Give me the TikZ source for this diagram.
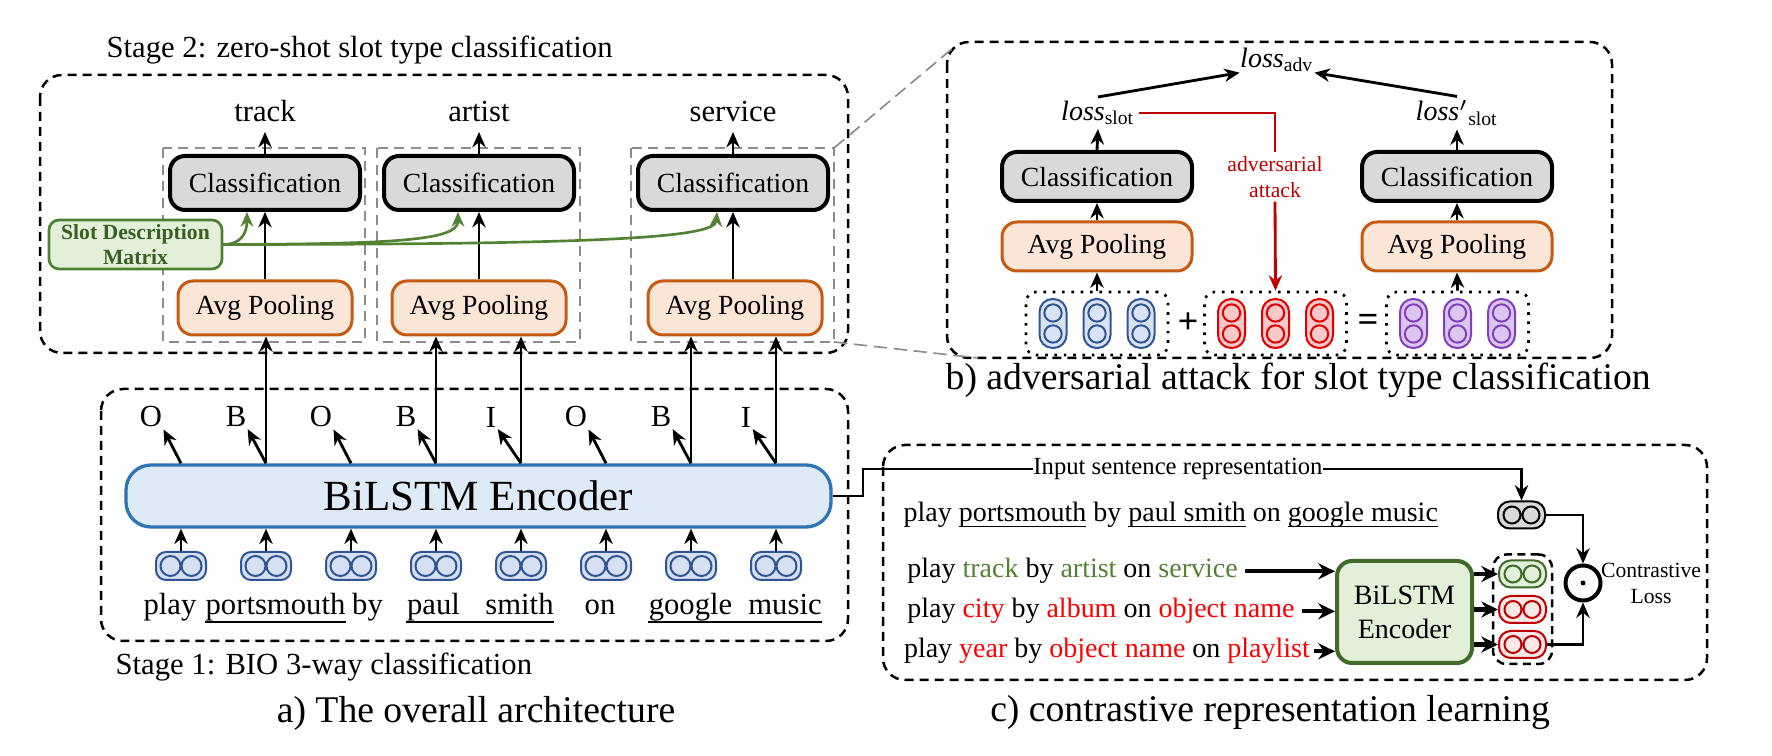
\documentclass[tikz,border=0pt]{standalone}
\usepackage{fontspec}
\setmainfont{Liberation Serif}
\usetikzlibrary{arrows.meta,calc,fit}
\definecolor{clsgray}{HTML}{D9D9D9}
\definecolor{avgfill}{HTML}{FBE5D6}
\definecolor{avgbd}{HTML}{C55A11}
\definecolor{encfill}{HTML}{DEEBF7}
\definecolor{encbd}{HTML}{2E75B6}
\definecolor{embfill}{HTML}{D6E0F2}
\definecolor{embbd}{HTML}{2F5597}
\definecolor{slotfill}{HTML}{E2F0D9}
\definecolor{slotbd}{HTML}{507E32}
\definecolor{slottxt}{HTML}{3B5E23}
\definecolor{garr}{HTML}{548235}
\definecolor{blfill}{HTML}{DAE3F3}
\definecolor{blbd}{HTML}{2F5597}
\definecolor{rdfill}{HTML}{FAC8C8}
\definecolor{rdbd}{HTML}{E00000}
\definecolor{pufill}{HTML}{DCC6F0}
\definecolor{pubd}{HTML}{7F3FBF}
\definecolor{advred}{HTML}{C00000}
\definecolor{ctgreen}{HTML}{548235}
\definecolor{ctred}{HTML}{FF0000}
\definecolor{gbfill}{HTML}{E2F0D9}
\definecolor{gbbd}{HTML}{3F6A28}
\definecolor{icrfill}{HTML}{FDE8E8}
\definecolor{icrbd}{HTML}{C00000}
\definecolor{zoomgray}{HTML}{8C8C8C}
\newcommand\fsN{\fontsize{9.2pt}{11pt}\selectfont}
\newcommand\fsB{\fontsize{8.3pt}{10pt}\selectfont}
\newcommand\fsE{\fontsize{12.9pt}{15pt}\selectfont}
\newcommand\fsC{\fontsize{11.3pt}{13pt}\selectfont}
\newcommand\fsS{\fontsize{6.5pt}{7.8pt}\selectfont}
\newcommand\fsSD{\fontsize{6.5pt}{7.5pt}\selectfont}
\newcommand\fsI{\fontsize{7.4pt}{9pt}\selectfont}
\newcommand\fsP{\fontsize{8.4pt}{10.2pt}\selectfont}
\newcommand\myul[1]{\underline{\smash{#1}}}
\begin{document}
\begin{tikzpicture}[x=0.3pt,y=-0.3pt,
  arr/.style={-{Stealth[length=4.6pt,width=4pt]}, line width=0.85pt},
  arrthick/.style={-{Stealth[length=5pt,width=4.8pt]}, line width=1.3pt},
  garrow/.style={-{Stealth[length=4.4pt,width=3.8pt]}, line width=0.8pt, draw=garr},
  obox/.style={draw=black, dash pattern=on 2.7pt off 1.8pt, line width=0.75pt, rounded corners=6.6pt},
  gbox/.style={draw=zoomgray, dash pattern=on 3pt off 2pt, line width=0.5pt},
  txt/.style={inner sep=0pt},
  cls/.style={draw, line width=1.2pt, fill=clsgray, rounded corners=4.5pt, minimum width=57pt, minimum height=16.2pt, font=\fsB, inner sep=0pt},
  avg/.style={draw=avgbd, line width=0.9pt, fill=avgfill, rounded corners=4.5pt, minimum width=52.2pt, minimum height=16.2pt, font=\fsB, inner sep=0pt},
  emb/.style={draw=embbd, fill=embfill, line width=0.6pt, rounded corners=3pt, minimum width=15pt, minimum height=8.4pt, inner sep=0pt},
  capsule/.style={line width=0.6pt, rounded corners=3.9pt, minimum width=8.1pt, minimum height=14.7pt, inner sep=0pt},
  grp/.style={draw, dotted, line width=0.8pt, rounded corners=3pt, minimum width=42.6pt, minimum height=18.9pt, inner sep=0pt},
  iconbox/.style={line width=0.6pt, rounded corners=3.5pt, minimum width=14.1pt, minimum height=8.1pt, inner sep=0pt}
]
\useasboundingbox (0,0) rectangle (1772,756);

% ================= Panel a =================
\node[txt, font=\fsN, anchor=west] (st2) at (106,50) {Stage 2: zero-shot slot type classification};
\draw[obox] (40,75) rectangle (848,353);

\draw[gbox] (163,148) rectangle (365,342);
\draw[gbox] (377,148) rectangle (580,342);
\draw[gbox] (631,148) rectangle (834,342);

\node[cls] (c1) at (265,183) {Classification};
\node[cls] (c2) at (479,183) {Classification};
\node[cls] (c3) at (733,183) {Classification};

\node[txt, font=\fsN, anchor=base] (t1) at (265,122) {track};
\node[txt, font=\fsN, anchor=base] (t2) at (479,122) {artist};
\node[txt, font=\fsN, anchor=base] (t3) at (733,122) {service};
\foreach \k in {1,2,3}{\draw[arr, shorten >=3pt] (c\k.north) -- (t\k.base);}

\node[avg] (a1) at (265,308) {Avg Pooling};
\node[avg] (a2) at (479,308) {Avg Pooling};
\node[avg] (a3) at (735,308) {Avg Pooling};
\foreach \k in {1,2,3}{\draw[arr] (a\k.north -| c\k) -- (c\k.south);}

\node[draw=slotbd, fill=slotfill, line width=0.8pt, rounded corners=3pt, minimum width=51.9pt, minimum height=14.7pt, inner sep=0pt, align=center, font=\fsSD\bfseries, text=slottxt] (slot) at (135.5,244.5) {Slot Description\\Matrix};
\draw[garrow] (slot.east) .. controls (242,244.5) and (247,232) .. ($(c1.south)+(-18,0)$);
\draw[garrow] (slot.east) .. controls (400,244) and (458,240) .. ($(c2.south)+(-21,0)$);
\draw[garrow] (slot.east) .. controls (600,244.5) and (715,238) .. ($(c3.south)+(-16,0)$);

\draw[obox] (101,389) rectangle (848,641);
\node[draw=encbd, fill=encfill, line width=1pt, rounded corners=7.5pt, minimum width=211.5pt, minimum height=18.6pt, inner sep=0pt, font=\fsE] (encA) at (478.5,496) {BiLSTM Encoder};

\foreach \i/\x/\l in {1/181/O,2/266/B,3/351/O,4/436/B,5/521/I,6/606/O,7/691/B,8/776/I}{
  \node[emb] (e\i) at (\x,566) {};
  \draw[embbd, line width=0.6pt] ($(e\i)+(-10.5,0)$) circle[radius=3pt] ($(e\i)+(10.5,0)$) circle[radius=3pt];
  \draw[arr] (e\i.north) -- (e\i.north |- encA.south);
  \node[txt, font=\fsN] (l\i) at (\x-30,417) {\l};
  \draw[arr, shorten >=0.5pt] (encA.north -| e\i) -- (l\i.south east);
}
\draw[arr] (encA.north -| e2) -- (e2 |- a1.south);
\draw[arr] (encA.north -| e4) -- (e4 |- a2.south);
\draw[arr] (encA.north -| e5) -- (e5 |- a2.south);
\draw[arr] (encA.north -| e7) -- (e7 |- a3.south);
\draw[arr] (encA.north -| e8) -- (e8 |- a3.south);

\foreach \i/\x/\w in {1/170/play,2/275.5/portsmouth,3/367.5/by,4/433.5/paul,5/519.5/smith,6/600/on,7/690.5/google,8/785/music}{
  \node[txt, font=\fsN, anchor=base] (w\i) at (\x,615) {\w};
}
\draw[line width=0.6pt] ([yshift=-2.1pt]w2.base west) -- ([yshift=-2.1pt]w2.base east);
\draw[line width=0.6pt] ([yshift=-2.1pt]w4.base west) -- ([yshift=-2.1pt]w5.base east);
\draw[line width=0.6pt] ([yshift=-2.1pt]w7.base west) -- ([yshift=-2.1pt]w8.base east);

\node[txt, font=\fsN, anchor=west] (st1) at (115,667) {Stage 1: BIO 3-way classification};
\node[txt, font=\fsC] (capa) at (476,713) {a) The overall architecture};

% ================= Panel b =================
\draw[obox] (947,42) rectangle (1612,358);
\coordinate (bTL) at (953,48);
\coordinate (bBL) at (978,358);
\draw[zoomgray, dash pattern=on 4pt off 2pt, line width=0.5pt] (834,148) -- (bTL);
\draw[zoomgray, dash pattern=on 4pt off 2pt, line width=0.5pt] (834,342) -- (bBL);

\node[txt, font=\fsP] (ladv) at (1277,60) {\textit{loss}\textsubscript{adv}};
\node[inner sep=1pt, font=\fsP] (ls) at (1098,113) {\textit{loss}\textsubscript{slot}};
\node[inner sep=1pt, font=\fsP] (lsp) at (1457,113) {\textit{loss}$'$\textsubscript{slot}};
\draw[arr] (ls.north) -- (ladv.south west);
\draw[arr] (lsp.north) -- (ladv.south east);

\node[cls, minimum height=14.7pt] (clb1) at (1097,176.5) {Classification};
\node[cls, minimum height=14.7pt] (clb2) at (1457,176.5) {Classification};
\node[avg, minimum width=57pt, minimum height=14.7pt] (avb1) at (1097,246.5) {Avg Pooling};
\node[avg, minimum width=57pt, minimum height=14.7pt] (avb2) at (1457,246.5) {Avg Pooling};
\draw[arr] (clb1.north) -- (ls.south);
\draw[arr] (clb2.north) -- (lsp.south);
\draw[arr] (avb1.north) -- (clb1.south);
\draw[arr] (avb2.north) -- (clb2.south);

\node[grp] (gl) at (1097,323.5) {};
\node[grp] (gm) at (1275.5,323.5) {};
\node[grp] (gr) at (1457.5,323.5) {};
\foreach \g/\fc/\dc in {gl/blfill/blbd,gm/rdfill/rdbd,gr/pufill/pubd}{
  \foreach \k/\dx in {1/-44,2/0,3/44}{
    \node[capsule, fill=\fc, draw=\dc] (\g\k) at ($(\g)+(\dx,0)$) {};
    \draw[\dc, line width=0.6pt] ($(\g\k)+(0,-10.5)$) circle[radius=2.6pt] ($(\g\k)+(0,10.5)$) circle[radius=2.6pt];
  }
}
\node[txt, font=\fontsize{11pt}{12pt}\selectfont\bfseries] (plus) at (1188,323) {+};
\node[txt, font=\fontsize{11pt}{12pt}\selectfont\bfseries] (eq) at (1368,323) {=};
\draw[arr] (gl.north) -- (avb1.south);
\draw[arr] (gr.north) -- (avb2.south);

\node[inner sep=1pt, align=center, font=\fsS, text=advred] (adv) at (1275,177) {adversarial\\attack};
\draw[advred, line width=0.8pt] (ls.east) -| (adv.north);
\draw[advred, arr] (adv.south) -- (gm.north);

\node[txt, font=\fsC, anchor=west] (capb) at (945,380) {b) adversarial attack for slot type classification};

% ================= Panel c =================
\draw[obox] (883,445) rectangle (1707,680);
\node[txt, font=\fsI] (inp) at (1178,469) {Input sentence representation};
\coordinate (bend) at (863,469);
\draw[line width=0.8pt] (encA.east) -| (bend) -- (inp.west);

\node[iconbox, draw=black, fill=clsgray] (gic) at (1521.5,515) {};
\draw[line width=0.6pt] ($(gic)+(-9.5,0)$) circle[radius=2.55pt] ($(gic)+(9.5,0)$) circle[radius=2.55pt];
\draw[arr] (inp.east) -| (gic.north);

\node[txt, font=\fsP, anchor=base west] (s0) at (903,522) {play \myul{portsmouth} by \myul{paul smith} on \myul{google music}};
\node[inner sep=2pt, font=\fsP, anchor=base west] (s1) at (900,578) {play \textcolor{ctgreen}{track} by \textcolor{ctgreen}{artist} on \textcolor{ctgreen}{service}};
\node[inner sep=2pt, font=\fsP, anchor=base west] (s2) at (900,618) {play \textcolor{ctred}{city} by \textcolor{ctred}{album} on \textcolor{ctred}{object name}};
\node[inner sep=1pt, font=\fsP, anchor=base west] (s3) at (900,658) {play \textcolor{ctred}{year} by \textcolor{ctred}{object name} on \textcolor{ctred}{playlist}};

\node[draw=gbbd, fill=gbfill, line width=1.2pt, rounded corners=4.5pt, minimum width=40.5pt, minimum height=30.6pt, inner sep=0pt, align=center, font=\fsP] (gb) at (1404.5,612) {BiLSTM\\Encoder};
\draw[arrthick] (s1.east) -- (s1.east -| gb.west);
\draw[arrthick] (s2.east) -- (s2.east -| gb.west);
\draw[arrthick] (s3.east) -- (s3.east -| gb.west);

\node[iconbox, draw=gbbd, fill=gbfill] (ic1) at (1522.5,574) {};
\node[iconbox, draw=icrbd, fill=icrfill] (ic2) at (1522.5,609.5) {};
\node[iconbox, draw=icrbd, fill=icrfill] (ic3) at (1522.5,644.5) {};
\draw[gbbd, line width=0.6pt] ($(ic1)+(-9.5,0)$) circle[radius=2.55pt] ($(ic1)+(9.5,0)$) circle[radius=2.55pt];
\draw[icrbd, line width=0.6pt] ($(ic2)+(-9.5,0)$) circle[radius=2.55pt] ($(ic2)+(9.5,0)$) circle[radius=2.55pt];
\draw[icrbd, line width=0.6pt] ($(ic3)+(-9.5,0)$) circle[radius=2.55pt] ($(ic3)+(9.5,0)$) circle[radius=2.55pt];
\node[draw, dash pattern=on 2.4pt off 1.6pt, line width=0.75pt, rounded corners=4pt, fit=(ic1)(ic3), inner sep=1.5pt] (icbox) {};
\draw[arrthick] (gb.east |- ic1) -- (ic1.west);
\draw[arrthick] (gb.east |- ic2) -- (ic2.west);
\draw[arrthick] (gb.east |- ic3) -- (ic3.west);

\node[circle, draw, line width=1.2pt, minimum size=10.5pt, inner sep=0pt] (od) at (1583,583) {};
\fill (od.center) circle[radius=0.75pt];
\draw[arr] (gic.east) -| (od.north);
\draw[arr] (ic3.east) -| (od.south);
\node[txt, font=\fsS, align=center] (cl) at (1651,583) {Contrastive\\Loss};

\node[txt, font=\fsC] (capc) at (1270,713) {c) contrastive representation learning};
\end{tikzpicture}
\end{document}
